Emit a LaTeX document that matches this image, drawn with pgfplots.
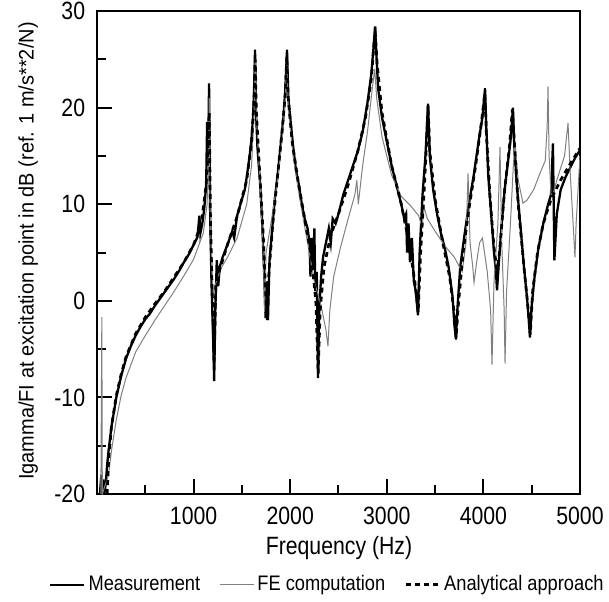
\documentclass[border=0pt]{standalone}
\usepackage{fontspec}
\setmainfont{Liberation Sans}[FakeStretch=0.85]
\newfontfamily\ylabfont{Liberation Sans}[FakeStretch=0.95]
\newfontfamily\legfont{Liberation Sans}[FakeStretch=0.87]
\usepackage{pgfplots}
\pgfplotsset{compat=1.18}
\begin{document}
\begin{tikzpicture}
\useasboundingbox (-48.5pt,-53.5pt) rectangle (256pt,247pt);
\begin{axis}[
  scale only axis,
  width=241.5pt, height=241.5pt,
  xmin=0, xmax=5000, ymin=-20, ymax=30,
  xtick={1000,2000,3000,4000,5000},
  minor xtick={500,1500,2500,3500,4500},
  ytick={-20,-10,0,10,20,30},
  minor ytick={-15,-5,5,15,25},
  xtick pos=left, ytick pos=left,
  tick align=inside,
  major tick length=7.5pt, minor tick length=4.5pt,
  every tick/.style={black, line width=1pt},
  axis line style={line width=1pt},
  /pgf/number format/assume math mode=true,
  /pgf/number format/1000 sep={},
  font=\fontsize{12.5}{14}\selectfont,
  xticklabel style={yshift=-3.2pt},
  yticklabel style={xshift=-2.4pt},
  xlabel={Frequency (Hz)},
  ylabel={\ylabfont\fontsize{10.5}{12}\selectfont Igamma/FI at excitation point in dB (ref. 1 m/s**2/N)},
  every axis x label/.style={at={(axis description cs:0.501,-0.112)}, anchor=center},
  every axis y label/.style={at={(axis description cs:-0.1427,0.503)}, anchor=center, rotate=90},
  legend columns=3,
  legend style={at={(axis description cs:0.478,-0.188)}, anchor=center, draw=none, fill=none,
    font=\legfont\fontsize{10.5}{12}\selectfont,
    nodes={inner sep=1.5pt},
    /tikz/every even column/.append style={column sep=8pt}},
  legend cell align=left,
  clip=true,
]
\addplot[black, line width=1.15pt] coordinates {
(30,-20) (45,-18) (55,-20) (65,-18.5) (75,-20) (90,-19) (105,-17) (120,-15.5) (150,-13) (200,-10) (250,-7.8) (300,-6.0) (350,-4.7) (400,-3.6) (450,-2.7) (500,-1.9) (550,-1.3) (600,-0.5) (650,0.2) (700,0.9) (750,1.6) (800,2.3) (850,3.1) (900,4.0) (950,4.8) (1000,5.8) (1040,6.6) (1060,8.8) (1070,7.0) (1090,8.0) (1110,9.5) (1130,12.0) (1140,18.5) (1150,14) (1160,22.5) (1170,10) (1185,2) (1200,-3) (1213,-8.3) (1225,-1) (1240,4.2) (1255,1.5) (1270,3.5) (1300,4.5) (1350,5.8) (1400,7.2) (1420,6.5) (1450,8.8) (1500,10.5) (1530,11.5) (1550,12.8) (1580,15) (1600,16.8) (1615,19) (1625,21.5) (1636,26) (1645,20) (1660,16) (1690,12) (1710,8) (1730,3) (1745,-1.8) (1755,2) (1770,-2.0) (1785,4) (1810,7) (1840,10.5) (1870,13) (1900,16) (1930,19) (1950,22) (1967,26) (1980,21) (2000,19) (2030,16) (2060,13.5) (2090,12) (2120,10) (2150,8.5) (2180,7.5) (2200,6) (2210,2.5) (2220,6.5) (2240,3.5) (2250,7.5) (2260,1) (2275,3) (2288,-8) (2300,-1) (2320,2.5) (2340,4.5) (2370,6) (2400,7.5) (2420,6) (2440,8.5) (2470,8) (2500,9) (2550,11) (2600,12.5) (2650,14) (2700,15.5) (2750,17.5) (2800,20.5) (2840,23.5) (2865,26.5) (2878,28.4) (2890,26) (2910,22) (2950,19) (3000,16.5) (3050,14) (3100,12) (3150,10) (3180,8.5) (3200,9.0) (3210,5) (3225,8) (3240,4) (3260,6.5) (3280,2) (3300,1) (3323,-1.5) (3340,5) (3370,11) (3400,15) (3427,20.4) (3445,15) (3480,11.5) (3520,9) (3560,7) (3600,5.5) (3640,3.5) (3680,0.5) (3700,-2.5) (3716,-4.0) (3730,-1) (3760,3.5) (3800,6.5) (3850,10) (3900,13) (3950,16.5) (3990,19) (4017,22) (4030,18) (4050,13) (4080,9) (4110,5) (4130,3) (4141,1.1) (4160,4) (4190,8) (4220,11.5) (4250,14) (4280,16.5) (4306,20) (4320,16) (4350,11.5) (4390,7) (4420,3.5) (4450,0.5) (4470,-2) (4482,-3.8) (4500,-0.5) (4530,2.5) (4570,5.5) (4620,8) (4670,10) (4700,11) (4720,16.3) (4735,4.2) (4760,9) (4800,11.5) (4850,12.8) (4900,13.8) (4950,14.8) (5000,15.6)
};
\addlegendentry{Measurement}
\addplot[black!50, line width=0.5pt] coordinates {
(40,-20) (50,-1.7) (55,-20) (120,-18) (150,-15.5) (200,-12.3) (250,-9.8) (300,-8) (400,-5.3) (500,-3.6) (600,-2) (700,-0.5) (800,1) (900,2.6) (1000,4.3) (1100,7) (1140,10) (1155,16) (1162,21) (1170,10) (1190,3) (1205,0.5) (1220,1.5) (1280,3.3) (1350,4.5) (1450,6.5) (1550,10) (1600,14) (1625,19) (1638,25) (1650,19) (1690,11.5) (1720,5) (1735,-1.2) (1750,5) (1800,8) (1870,12.5) (1920,17) (1950,21) (1965,25) (1980,20) (2030,15) (2100,10.5) (2180,6) (2250,2) (2320,-0.5) (2370,-3) (2391,-4.7) (2410,-1) (2450,2.5) (2520,5.5) (2600,8.5) (2670,11) (2690,12.5) (2705,10) (2750,14) (2800,17.5) (2850,22) (2875,24) (2895,21) (2950,17) (3050,13) (3150,10.8) (3250,9.8) (3330,8.8) (3365,7.6) (3385,9.7) (3420,8.5) (3500,7.2) (3600,5.7) (3700,4.5) (3780,3) (3820,6) (3841,13.2) (3862,6) (3890,3.5) (3903,1.9) (3930,4) (3960,6) (3990,6.5) (4040,3) (4075,-1) (4089,-6.6) (4110,2) (4150,8) (4172,15.9) (4190,6) (4215,-1) (4224,-6.5) (4240,1) (4280,8) (4310,14) (4327,16.4) (4360,12.5) (4410,10.1) (4450,10.4) (4520,11.5) (4586,13.2) (4640,14.5) (4660,18) (4669,22.2) (4680,15) (4700,11) (4720,11) (4760,12.5) (4840,15) (4876,18.4) (4900,13) (4940,6) (4948,4.5) (4960,8) (5000,15)
};
\addlegendentry{FE computation}
\addplot[black, line width=1.35pt, dash pattern=on 2.5pt off 2pt] coordinates {
(105,-20) (120,-16.5) (150,-13) (200,-9.8) (250,-7.6) (300,-5.8) (400,-3.4) (500,-1.7) (600,-0.3) (700,1.0) (800,2.5) (900,4.0) (1000,5.8) (1080,8) (1130,12) (1150,16) (1162,19.5) (1175,8) (1195,0) (1212,-6.5) (1230,1.5) (1270,3.2) (1350,5.8) (1450,8.7) (1550,12.5) (1600,16.5) (1625,20.5) (1638,25) (1650,19.5) (1680,14) (1720,7) (1745,1) (1762,-2) (1780,3) (1820,8) (1870,13) (1920,18) (1950,21.5) (1965,25.3) (1980,21) (2020,16.5) (2080,12.5) (2150,8.5) (2220,4.5) (2265,0) (2290,-7.5) (2310,-1) (2350,3.5) (2420,6.8) (2500,9) (2600,12) (2700,15.5) (2780,19) (2840,23) (2870,27) (2882,27.5) (2900,24.5) (2950,19.5) (3050,14) (3150,10) (3230,6) (3290,2) (3325,-1.2) (3350,5) (3390,12) (3410,16) (3427,20.2) (3445,15.5) (3500,10.5) (3580,6) (3650,2.5) (3695,-1) (3718,-3.8) (3740,-0.5) (3790,5) (3850,9.5) (3920,14) (3980,18.5) (4015,21.5) (4030,17.5) (4070,10.5) (4110,5.5) (4145,2.8) (4175,6) (4220,11.5) (4270,16) (4300,19.8) (4320,16.5) (4360,10) (4420,3.5) (4460,-0.5) (4485,-3.5) (4510,1) (4560,5) (4620,8) (4700,10.5) (4800,12.5) (4900,14.2) (5000,15.8)
};
\addlegendentry{Analytical approach}
\end{axis}
\end{tikzpicture}
\end{document}
